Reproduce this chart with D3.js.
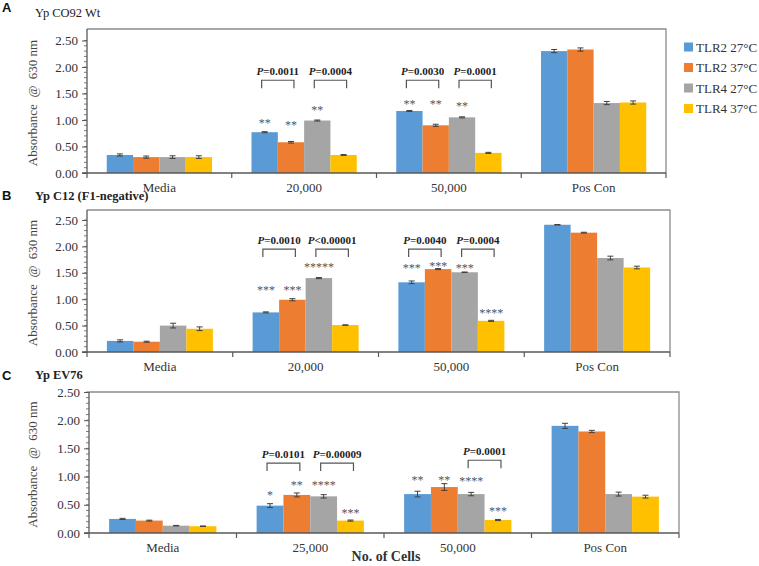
<!DOCTYPE html>
<html>
<head>
<meta charset="utf-8">
<script src="https://cdn.jsdelivr.net/npm/d3@7"></script>
<style>
  html, body { margin: 0; padding: 0; background: #fff; }
  svg { display: block; }
</style>
</head>
<body>
<svg id="chart" width="759" height="566"></svg>
<script>
// ---------------- DATA ----------------
const seriesNames = ["TLR2 27°C", "TLR2 37°C", "TLR4 27°C", "TLR4 37°C"];
const seriesColors = ["#5B9BD5", "#ED7D31", "#A5A5A5", "#FFC000"];
const yTicks = [0, 0.5, 1.0, 1.5, 2.0, 2.5];

// Panel A — Yp CO92 Wt
const categoriesA = ["Media", "20,000", "50,000", "Pos Con"];
const valuesA = [[0.34, 0.30, 0.30, 0.30], [0.77, 0.58, 0.99, 0.34], [1.17, 0.90, 1.05, 0.38], [2.30, 2.33, 1.32, 1.33]];
const errorsA = [[0.02, 0.02, 0.025, 0.025], [0.01, 0.015, 0.01, 0.008], [0.01, 0.02, 0.01, 0.01], [0.03, 0.03, 0.03, 0.03]];
const starsA = [["", "", "", ""], ["**", "**", "**", ""], ["**", "**", "**", ""], ["", "", "", ""]];
const starLevelA = [[0, 0, 0, 0], [1.00, 0.96, 1.23, 0], [1.34, 1.34, 1.32, 0], [0, 0, 0, 0]];
const pCategoryA = ["20,000", "20,000", "50,000", "50,000"];
const pPairA = [[0, 1], [2, 3], [0, 1], [2, 3]];
const pTextA = ["=0.0011", "=0.0004", "=0.0030", "=0.0001"];
const pLevelA = [1.75, 1.75, 1.75, 1.75];

// Panel B — Yp C12 (F1-negative)
const categoriesB = ["Media", "20,000", "50,000", "Pos Con"];
const valuesB = [[0.21, 0.195, 0.50, 0.44], [0.75, 0.99, 1.40, 0.51], [1.32, 1.57, 1.51, 0.59], [2.41, 2.26, 1.78, 1.60]];
const errorsB = [[0.02, 0.01, 0.045, 0.035], [0.01, 0.02, 0.01, 0.005], [0.025, 0.01, 0.005, 0.01], [0.005, 0.008, 0.035, 0.025]];
const starsB = [["", "", "", ""], ["***", "***", "*****", ""], ["***", "***", "***", "****"], ["", "", "", ""]];
const starLevelB = [[0, 0, 0, 0], [1.22, 1.22, 1.65, 0], [1.64, 1.67, 1.64, 0.79], [0, 0, 0, 0]];
const pCategoryB = ["20,000", "20,000", "50,000", "50,000"];
const pPairB = [[0, 1], [2, 3], [0, 1], [2, 3]];
const pTextB = ["=0.0010", "<0.00001", "=0.0040", "=0.0004"];
const pLevelB = [1.95, 1.95, 1.95, 1.95];

// Panel C — Yp EV76
const categoriesC = ["Media", "25,000", "50,000", "Pos Con"];
const valuesC = [[0.25, 0.22, 0.13, 0.12], [0.485, 0.675, 0.65, 0.22], [0.69, 0.815, 0.69, 0.23], [1.90, 1.80, 0.69, 0.645]];
const errorsC = [[0.01, 0.008, 0.005, 0.005], [0.035, 0.035, 0.03, 0.01], [0.05, 0.06, 0.03, 0.01], [0.045, 0.02, 0.035, 0.025]];
const starsC = [["", "", "", ""], ["*", "**", "****", "***"], ["**", "**", "****", "***"], ["", "", "", ""]];
const starLevelC = [[0, 0, 0, 0], [0.71, 0.90, 0.90, 0.40], [0.99, 0.99, 0.975, 0.43], [0, 0, 0, 0]];
const pCategoryC = ["25,000", "25,000", "50,000"];
const pPairC = [[0, 1], [2, 3], [2, 3]];
const pTextC = ["=0.0101", "=0.00009", "=0.0001"];
const pLevelC = [1.24, 1.24, 1.29];

const panelLetters = ["A", "B", "C"];
const panelTitles = ["Yp CO92 Wt", "Yp C12 (F1-negative)", "Yp EV76"];
const yAxisTitle = "Absorbance  @  630 nm";
const xAxisTitle = "No. of Cells";

// ---------------- LAYOUT ----------------
const layouts = [
  { left: 87, right: 666, y0: 173, yMax: 40.5, frameTop: 29, letterY: 12, titleY: 17, titleBold: false },
  { left: 87, right: 670, y0: 352, yMax: 220, frameTop: 210, letterY: 200, titleY: 200, titleBold: true },
  { left: 89, right: 679, y0: 533, yMax: 392, frameTop: 392, letterY: 380, titleY: 379, titleBold: true }
];
const panels = [
  { cats: categoriesA, vals: valuesA, errs: errorsA, stars: starsA, starLv: starLevelA, pCat: pCategoryA, pPair: pPairA, pText: pTextA, pLv: pLevelA },
  { cats: categoriesB, vals: valuesB, errs: errorsB, stars: starsB, starLv: starLevelB, pCat: pCategoryB, pPair: pPairB, pText: pTextB, pLv: pLevelB },
  { cats: categoriesC, vals: valuesC, errs: errorsC, stars: starsC, starLv: starLevelC, pCat: pCategoryC, pPair: pPairC, pText: pTextC, pLv: pLevelC }
];

const serif = "'Liberation Serif', 'Times New Roman', serif";
const sans = "'Liberation Sans', Arial, sans-serif";
const svg = d3.select("#chart");

panels.forEach((p, pi) => {
  const L = layouts[pi];
  const g = svg.append("g");
  const y = d3.scaleLinear().domain([0, 2.5]).range([L.y0, L.yMax]);
  const x0 = d3.scaleBand().domain(p.cats).range([L.left, L.right]).padding(0);
  const x1 = d3.scaleBand().domain(d3.range(seriesNames.length)).range([0, x0.bandwidth()]).paddingInner(0).paddingOuter(0.75);

  // frame (top + right)
  g.append("path")
    .attr("d", `M${L.left},${L.frameTop}H${L.right}V${L.y0}`)
    .attr("fill", "none").attr("stroke", "#8c8c8c").attr("stroke-width", 1.3);

  // y axis
  const yAxis = d3.axisLeft(y).tickValues(yTicks).tickFormat(d3.format(".2f")).tickSize(5).tickPadding(4);
  const ya = g.append("g").attr("transform", `translate(${L.left},0)`).call(yAxis);
  ya.select(".domain").remove();
  ya.selectAll(".tick line").attr("stroke", "#595959");
  ya.selectAll(".tick text").attr("font-family", serif).attr("font-size", 13).attr("fill", "#333");
  // minor ticks
  const minor = d3.range(0, 2.5001, 0.1);
  g.append("g").selectAll("line").data(minor).join("line")
    .attr("x1", L.left - 3).attr("x2", L.left)
    .attr("y1", d => y(d)).attr("y2", d => y(d))
    .attr("stroke", "#595959").attr("stroke-width", 0.8);
  g.append("line").attr("x1", L.left).attr("x2", L.left).attr("y1", L.frameTop).attr("y2", L.y0)
    .attr("stroke", "#595959").attr("stroke-width", 1.3);

  // bars
  p.cats.forEach((c, ci) => {
    const cg = g.append("g").attr("transform", `translate(${x0(c)},0)`);
    cg.selectAll("rect").data(p.vals[ci]).join("rect")
      .attr("x", (d, si) => x1(si)).attr("width", x1.bandwidth())
      .attr("y", d => y(d)).attr("height", d => y(0) - y(d))
      .attr("fill", (d, si) => seriesColors[si]);
    // error bars
    const eb = cg.selectAll("g.err").data(p.vals[ci]).join("g").attr("class", "err");
    eb.append("line")
      .attr("x1", (d, si) => x1(si) + x1.bandwidth() / 2).attr("x2", (d, si) => x1(si) + x1.bandwidth() / 2)
      .attr("y1", (d, si) => y(d - p.errs[ci][si])).attr("y2", (d, si) => y(d + p.errs[ci][si]))
      .attr("stroke", "#404040").attr("stroke-width", 1);
    [-1, 1].forEach(sg => {
      eb.append("line")
        .attr("x1", (d, si) => x1(si) + x1.bandwidth() / 2 - 3).attr("x2", (d, si) => x1(si) + x1.bandwidth() / 2 + 3)
        .attr("y1", (d, si) => y(d + sg * p.errs[ci][si])).attr("y2", (d, si) => y(d + sg * p.errs[ci][si]))
        .attr("stroke", "#404040").attr("stroke-width", 1);
    });
    // stars
    cg.selectAll("text.star").data(p.stars[ci]).join("text").attr("class", "star")
      .filter(d => d !== "")
      .attr("x", (d, si) => x1(si) + x1.bandwidth() / 2)
      .attr("y", (d, si) => y(p.starLv[ci][si]) + 6.5)
      .attr("text-anchor", "middle").attr("font-family", serif).attr("font-size", 12)
      .attr("fill", "#555").text(d => d);
  });

  // x axis line and category ticks
  g.append("line").attr("x1", L.left - 5).attr("x2", L.right).attr("y1", L.y0).attr("y2", L.y0)
    .attr("stroke", "#595959").attr("stroke-width", 1.3);
  const bounds = p.cats.map(c => x0(c)).concat([L.right]);
  g.append("g").selectAll("line").data(bounds).join("line")
    .attr("x1", d => d).attr("x2", d => d).attr("y1", L.y0).attr("y2", L.y0 + 5)
    .attr("stroke", "#595959").attr("stroke-width", 1.2);
  g.append("g").selectAll("text").data(p.cats).join("text")
    .attr("x", d => x0(d) + x0.bandwidth() / 2).attr("y", L.y0 + 19)
    .attr("text-anchor", "middle").attr("font-family", serif).attr("font-size", 13)
    .attr("fill", "#333").text(d => d);

  // p-value brackets
  p.pText.forEach((t, k) => {
    const cx = x0(p.pCat[k]);
    const [a, b] = p.pPair[k];
    const xa = cx + x1(a) + x1.bandwidth() / 2 - 3;
    const xb = cx + x1(b) + x1.bandwidth() / 2 + 3;
    const yt = y(p.pLv[k]);
    g.append("path").attr("d", `M${xa},${yt + 8}V${yt}H${xb}V${yt + 8}`)
      .attr("fill", "none").attr("stroke", "#555").attr("stroke-width", 1.2);
    const tx = g.append("text").attr("x", (xa + xb) / 2).attr("y", yt - 5)
      .attr("text-anchor", "middle").attr("font-family", serif).attr("font-size", 11)
      .attr("font-weight", "bold").attr("fill", "#222");
    tx.append("tspan").attr("font-style", "italic").text("P");
    tx.append("tspan").text(t);
  });

  // y axis title
  g.append("text")
    .attr("transform", `translate(37,${(L.frameTop + L.y0) / 2 + 2}) rotate(-90)`)
    .attr("text-anchor", "middle").attr("font-family", serif).attr("font-size", 13)
    .attr("fill", "#444").style("white-space", "pre").text(yAxisTitle);

  // panel letter & title
  g.append("text").attr("x", 2).attr("y", L.letterY).attr("font-family", sans).attr("font-weight", "bold")
    .attr("font-size", 13).attr("fill", "#111").text(panelLetters[pi]);
  g.append("text").attr("x", 35).attr("y", L.titleY).attr("font-family", serif)
    .attr("font-weight", L.titleBold ? "bold" : "normal")
    .attr("font-size", 12.5).attr("fill", "#222").style("white-space", "pre").text(panelTitles[pi]);
});

// x axis title
svg.append("text").attr("x", 386).attr("y", 561).attr("text-anchor", "middle")
  .attr("font-family", serif).attr("font-weight", "bold").attr("font-size", 14)
  .attr("fill", "#333").text(xAxisTitle);

// legend
const lg = svg.append("g").attr("transform", "translate(684,47)");
seriesNames.forEach((s, i) => {
  lg.append("rect").attr("x", 0).attr("y", i * 20.5 - 4.5).attr("width", 9).attr("height", 9).attr("fill", seriesColors[i]);
  lg.append("text").attr("x", 12).attr("y", i * 20.5 + 4.5).attr("font-family", serif).attr("font-size", 13)
    .attr("fill", "#333").text(s);
});
</script>
</body>
</html>
